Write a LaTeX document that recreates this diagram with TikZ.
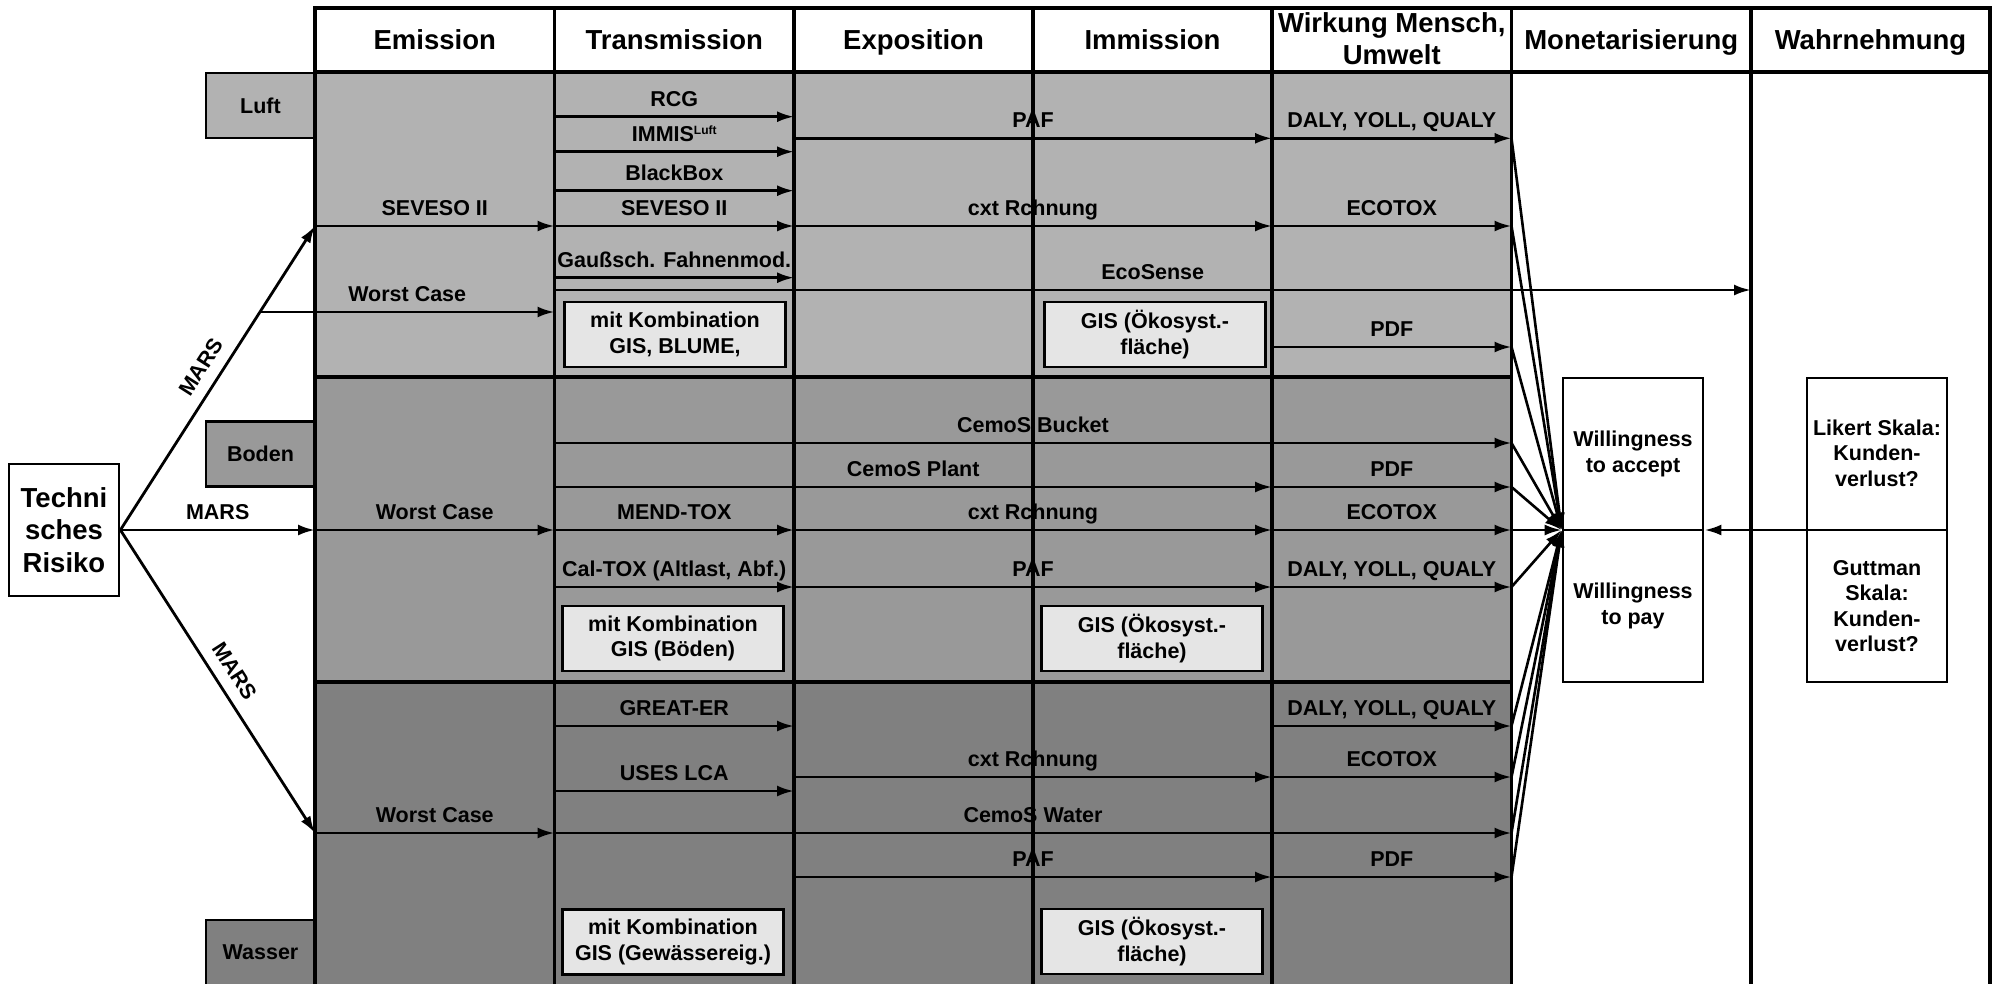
\documentclass[tikz,border=0pt]{standalone}
\usepackage{fontspec}
\setmainfont{Liberation Sans}
\usetikzlibrary{arrows.meta,calc}
\newcommand\bodyfont{\fontsize{21.5}{25.5}\selectfont\bfseries}
\newcommand\headfont{\fontsize{27.5}{32}\selectfont\bfseries}
\definecolor{luftgray}{gray}{0.70}
\definecolor{bodengray}{gray}{0.60}
\definecolor{wassergray}{gray}{0.50}
\definecolor{boxgray}{gray}{0.90}
\begin{document}
\begin{tikzpicture}[x=1pt,y=-1pt,
  gridline/.style={line width=3.2pt},
  arr/.style={line width=2.8pt,-{Latex[length=17pt,width=11pt]}},
  conv/.style={line width=2.6pt,-{Latex[length=17pt,width=11pt]}},
  lbl/.style={anchor=base,yshift=10.5pt,inner sep=0pt,font=\bodyfont},
  slbl/.style={sloped,above=11pt,inner sep=0pt,font=\bodyfont},
  head/.style={font=\headfont,align=center,inner sep=0pt},
  ibox/.style={draw,line width=2.8pt,fill=boxgray,font=\bodyfont,align=center,minimum width=221pt,minimum height=65pt,inner sep=0pt},
  mbox/.style={draw,line width=2.8pt,fill=white,minimum width=140pt,minimum height=304pt,inner sep=0pt},
  mtext/.style={font=\bodyfont,align=center,inner sep=0pt},
  medium/.style={draw,line width=2.8pt,font=\bodyfont,minimum width=109pt,minimum height=65pt,inner sep=0pt},
]
\useasboundingbox (0,0) rectangle (1995,983);

% bands
\fill[luftgray] (315,72) rectangle (1511.5,377);
\fill[bodengray] (315,377) rectangle (1511.5,682);
\fill[wassergray] (315,682) rectangle (1511.5,995);

% medium labels
\node[medium,fill=luftgray] (luft) at (260.5,105.5) {Luft};
\node[medium,fill=bodengray] (boden) at (260.5,454) {Boden};
\node[medium,fill=wassergray] (wasser) at (260.5,952.5) {Wasser};

% risk node
\node[draw,line width=2.8pt,minimum width=110pt,minimum height=132pt,inner sep=0pt,align=center,
      font=\fontsize{27.5}{32.5}\selectfont\bfseries] (risk) at (64,530) {Techni\\sches\\Risiko};

% headers
\node[head,anchor=base] at (434.75,49.5) {Emission};
\node[head,anchor=base] at (674.25,49.5) {Transmission};
\node[head,anchor=base] at (913.5,49.5) {Exposition};
\node[head,anchor=base] at (1152.5,49.5) {Immission};
\node[head] at (1391.75,39) {Wirkung Mensch,\\Umwelt};
\node[head,anchor=base] at (1631.25,49.5) {Monetarisierung};
\node[head,anchor=base] at (1870.5,49.5) {Wahrnehmung};

% inner boxes
\node[ibox] (k1) at (675,334.5) {mit Kombination\\GIS, BLUME,};
\node[ibox] (g1) at (1155,334.5) {GIS (Ökosyst.-\\fläche)};
\node[ibox] (k2) at (673,638.5) {mit Kombination\\GIS (Böden)};
\node[ibox] (g2) at (1152,638.5) {GIS (Ökosyst.-\\fläche)};
\node[ibox] (k3) at (673,942) {mit Kombination\\GIS (Gewässereig.)};
\node[ibox] (g3) at (1152,941.5) {GIS (Ökosyst.-\\fläche)};

% right boxes
\node[mbox] (wil) at (1633,530) {};
\draw[line width=2.8pt] (wil.west) -- (wil.east);
\node[mtext] at (1633,454) {Willingness\\to accept};
\node[mtext] at (1633,606) {Willingness\\to pay};
\node[mbox] (lik) at (1877,530) {};
\draw[line width=2.8pt] (lik.west) -- (lik.east);
\node[mtext] at (1877,453) {Likert Skala:\\Kunden-\\verlust?};
\node[mtext] at (1877,606) {Guttman\\Skala:\\Kunden-\\verlust?};
\draw[arr] (lik.west) -- (wil.east);

% coordinates
\coordinate (eL) at (315,226);
\coordinate (eB) at (315,530);
\coordinate (eW) at (315,833);
\coordinate (cB) at (554.5,0);

% MARS arrows
\draw[arr] (risk.east) -- node[slbl,pos=0.5]{MARS} (eL);
\draw[arr] (risk.east) -- node[lbl]{MARS} (eB);
\draw[arr] (risk.east) -- node[slbl,pos=0.5]{MARS} (eW);
\coordinate (brL) at ($(risk.east)!0.71711!(eL)$);

% Luft
\draw[arr] (554.5,116.7) -- node[lbl]{RCG} (794,116.7);
\draw[arr] (554.5,151.7) -- node[lbl]{IMMIS\raisebox{7pt}{\fontsize{12}{12}\selectfont Luft}} (794,151.7);
\draw[arr] (554.5,190.7) -- node[lbl]{BlackBox} (794,190.7);
\draw[arr] (eL) -- node[lbl]{SEVESO II} (554.5,226);
\draw[arr] (554.5,226) -- node[lbl]{SEVESO II} (794,226);
\draw[arr] (794,138.3) -- node[lbl]{PAF} (1272,138.3);
\draw[arr] (794,226) -- node[lbl]{cxt Rchnung} (1272,226);
\draw[arr] (1272,138.3) -- node[lbl]{DALY, YOLL, QUALY} (1511.5,138.3) coordinate (w1);
\draw[arr] (1272,226) -- node[lbl]{ECOTOX} (1511.5,226) coordinate (w2);
\draw[arr] (554.5,277.7) -- node[lbl]{Gaußsch. Fahnenmod.} (794,277.7);
\draw[arr] (554.5,290) -- node[lbl]{EcoSense} (1751,290);
\draw[arr] (brL) -- node[lbl]{Worst Case} (brL -| cB);
\draw[arr] (1272,347) -- node[lbl]{PDF} (1511.5,347) coordinate (w3);

% Boden
\draw[arr] (554.5,443) -- node[lbl]{CemoS Bucket} (1511.5,443) coordinate (w4);
\draw[arr] (554.5,487) -- node[lbl]{CemoS Plant} (1272,487);
\draw[arr] (1272,487) -- node[lbl]{PDF} (1511.5,487) coordinate (w5);
\draw[arr] (eB) -- node[lbl]{Worst Case} (554.5,530);
\draw[arr] (554.5,530) -- node[lbl]{MEND-TOX} (794,530);
\draw[arr] (794,530) -- node[lbl]{cxt Rchnung} (1272,530);
\draw[arr] (1272,530) -- node[lbl]{ECOTOX} (1511.5,530) coordinate (w6);
\draw[arr] (554.5,587) -- node[lbl]{Cal-TOX (Altlast, Abf.)} (794,587);
\draw[arr] (794,587) -- node[lbl]{PAF} (1272,587);
\draw[arr] (1272,587) -- node[lbl]{DALY, YOLL, QUALY} (1511.5,587) coordinate (w7);

% Wasser
\draw[arr] (554.5,726) -- node[lbl]{GREAT-ER} (794,726);
\draw[arr] (1272,726) -- node[lbl]{DALY, YOLL, QUALY} (1511.5,726) coordinate (w8);
\draw[arr] (554.5,791) -- node[lbl]{USES LCA} (794,791);
\draw[arr] (794,777) -- node[lbl]{cxt Rchnung} (1272,777);
\draw[arr] (1272,777) -- node[lbl]{ECOTOX} (1511.5,777) coordinate (w9);
\draw[arr] (eW) -- node[lbl]{Worst Case} (554.5,833);
\draw[arr] (554.5,833) -- node[lbl]{CemoS Water} (1511.5,833) coordinate (w10);
\draw[arr] (794,877) -- node[lbl]{PAF} (1272,877);
\draw[arr] (1272,877) -- node[lbl]{PDF} (1511.5,877) coordinate (w11);

% converging connectors
\foreach \i in {1,...,11} \draw[conv] (w\i) -- (wil.west);

% grid
\draw[gridline] (315,72) -- (1990,72);
\draw[gridline] (315,377) -- (1511.5,377);
\draw[gridline] (315,682) -- (1511.5,682);
\foreach \x in {554.5,794,1033,1272,1511.5,1751} \draw[gridline] (\x,8) -- (\x,995);
\draw[gridline] (315,995) -- (315,8) -- (1990,8) -- (1990,995);
\end{tikzpicture}
\end{document}
